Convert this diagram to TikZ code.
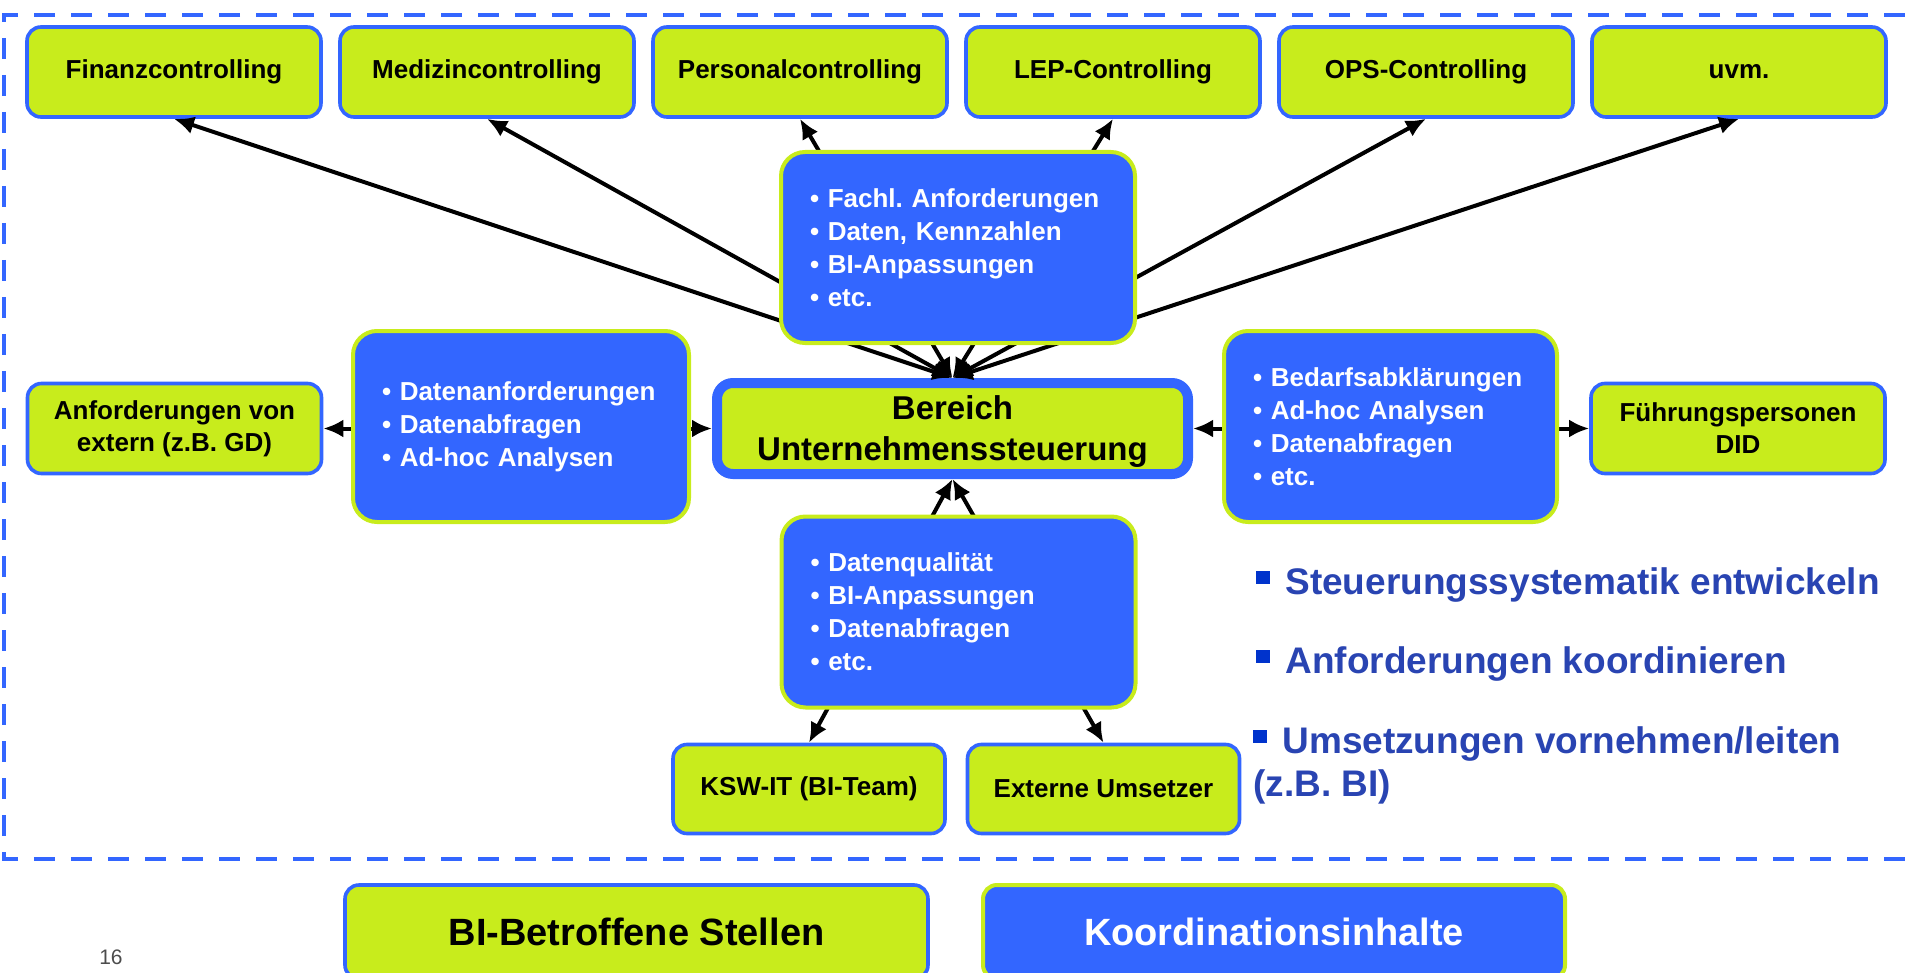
\documentclass[tikz,border=0pt]{standalone}
\usepackage{fontspec}
\setmainfont{Liberation Sans}
\usepackage{xcolor}
\usetikzlibrary{arrows.meta}
\frenchspacing

\definecolor{kswblau}{RGB}{51,102,255}
\definecolor{kswgruen}{RGB}{200,236,28}
\definecolor{listblau}{RGB}{41,68,178}
\definecolor{punktblau}{RGB}{0,51,204}

\tikzset{
  stelle/.style={draw=kswblau, fill=kswgruen, line width=1.8pt, rounded corners=7pt, align=center,
    font=\bfseries\fontsize{13}{16}\selectfont, minimum width=147pt, minimum height=45pt, inner sep=2pt},
  inhalt/.style={draw=kswgruen, fill=kswblau, line width=2pt, rounded corners=12pt, align=left, text=white,
    font=\bfseries\fontsize{13}{16.5}\selectfont, inner xsep=14.5pt, minimum height=95.5pt},
  pfeil/.style={{Latex[length=10pt,width=9pt]}-{Latex[length=10pt,width=9pt]}, line width=2pt, draw=black},
  aufgabe/.style={text=listblau, font=\bfseries\fontsize{18.5}{21.5}\selectfont, anchor=base west, inner sep=0pt, align=left}
}
\newcommand{\punkt}{\textcolor{punktblau}{\rule[5pt]{7pt}{6.5pt}}\hspace{7.5pt}}

\begin{document}
\begin{tikzpicture}[x=0.5pt,y=-0.5pt]
\useasboundingbox (0,0) rectangle (1905,973);

% Rahmen
\draw[kswblau, line width=2pt, dash pattern=on 10.5pt off 8pt] (1905,15) -- (4,15) -- (4,859) -- (1905,859);

% BI-betroffene Stellen
\node[stelle] (fin) at (174,72) {Finanzcontrolling};
\node[stelle] (med) at (487,72) {Medizincontrolling};
\node[stelle] (pers) at (800,72) {Personalcontrolling};
\node[stelle] (lep) at (1113,72) {LEP-Controlling};
\node[stelle] (ops) at (1426,72) {OPS-Controlling};
\node[stelle] (uvm) at (1739,72) {uvm.};
\node[stelle] (extern) at (174.5,428.5) {Anforderungen von\\extern (z.B. GD)};
\node[stelle] (fuehrung) at (1738,428.5) {Führungspersonen\\DID};
\node[stelle, minimum width=136pt, minimum height=44.5pt] (ksw) at (809,789) {KSW-IT (BI-Team)};
\node[stelle, minimum width=136pt, minimum height=44.5pt] (extum) at (1103.5,789) {Externe Umsetzer};
\node[stelle, line width=5pt, rounded corners=8pt, minimum width=235.5pt, minimum height=45.5pt,
  font=\bfseries\fontsize{16.5}{20.5}\selectfont] (bereich) at (952.5,428.5) {\rule{0pt}{15pt}Bereich\\Unternehmenssteuerung};

% Verbindungen
\foreach \s in {fin,med,pers,lep,ops,uvm}
  \draw[pfeil] (bereich.north) -- (\s.south);
\draw[pfeil] (bereich.west) -- (extern.east);
\draw[pfeil] (bereich.east) -- (fuehrung.west);
\draw[pfeil] (bereich.south) -- (ksw.north);
\draw[pfeil] (bereich.south) -- (extum.north);

% Koordinationsinhalte
\node[inhalt, text width=148pt] (oben) at (958,247.5) {• Fachl. Anforderungen\\• Daten, Kennzahlen\\• BI-Anpassungen\\• etc.};
\node[inhalt, text width=139pt] (links) at (521,426.5) {• Datenanforderungen\\• Datenabfragen\\• Ad-hoc Analysen};
\node[inhalt, text width=137.5pt] (rechts) at (1390.5,426.5) {• Bedarfsabklärungen\\• Ad-hoc Analysen\\• Datenabfragen\\• etc.};
\node[inhalt, text width=148pt] (unten) at (958.5,612) {• Datenqualität\\• BI-Anpassungen\\• Datenabfragen\\• etc.};

% Aufgaben
\node[aufgabe] (auf1) at (1256,594) {\punkt Steuerungssystematik entwickeln};
\node[aufgabe] (auf2) at (1256,673) {\punkt Anforderungen koordinieren};
\node[aufgabe] (auf3) at (1253,796) {\punkt Umsetzungen vornehmen/leiten\\(z.B. BI)};

% Legende
\node[stelle, minimum width=291.5pt, minimum height=47pt, font=\bfseries\fontsize{19}{22}\selectfont] (legstellen) at (636.5,932) {BI-Betroffene Stellen};
\node[inhalt, align=center, minimum width=291pt, minimum height=47pt, rounded corners=7pt,
  font=\bfseries\fontsize{19}{22}\selectfont] (leginhalte) at (1274,932) {Koordinationsinhalte};
\node[text=black!70, font=\fontsize{10.5}{12}\selectfont] (seite) at (111,957) {16};
\end{tikzpicture}
\end{document}
